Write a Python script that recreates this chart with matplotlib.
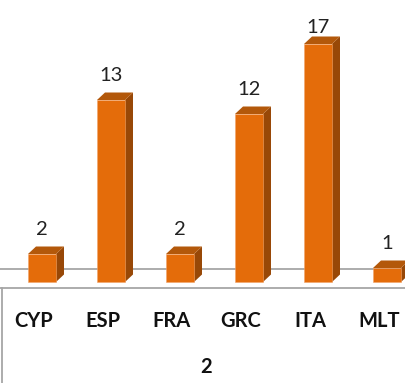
import matplotlib
matplotlib.use("Agg")
import matplotlib.pyplot as plt
from matplotlib.patches import Polygon

plt.rcParams['font.family'] = ['Lato', 'DejaVu Sans']

categories = ["CYP", "ESP", "FRA", "GRC", "ITA", "MLT"]
values = [2, 13, 2, 12, 17, 1]
group_label = "2"

# layout in pixels, turned into data units below
px_per_cat = 69.0
px_per_unit = 14.0
W, H = 405, 383
x0_px = 34.0      # centre of first category
base_px = 282.0   # pixel row of value 0 (front face bottom)

def ux(p):
    return p / px_per_cat

def uy(p):
    return p / px_per_unit

front = "#E46C0A"
side = "#984807"
top = "#B3580A"
grey = "#A6A6A6"

fig = plt.figure(figsize=(W / 100, H / 100), dpi=100)
ax = fig.add_axes([0, 0, 1, 1])
ax.set_xlim(ux(-x0_px), ux(W - x0_px))
ax.set_ylim(uy(base_px - H), uy(base_px))
ax.axis("off")

bar_off = ux(8)
bar_w = ux(28)
dx = ux(8)
dy = uy(7.5)

# back floor line
ax.axhline(uy(13), color=grey, lw=1.3, zorder=1)

xs = list(range(len(categories)))
for i, v in zip(xs, values):
    left = i + bar_off - bar_w / 2
    right = left + bar_w
    ax.bar(i + bar_off, v, width=bar_w, color=front, edgecolor="#F2A46A",
           linewidth=0.4, zorder=3)
    ax.add_patch(Polygon([(right, 0), (right + dx, dy), (right + dx, v + dy), (right, v)],
                         closed=True, facecolor=side, edgecolor="none", zorder=2))
    ax.add_patch(Polygon([(left, v), (right, v), (right + dx, v + dy), (left + dx, v + dy)],
                         closed=True, facecolor=top, edgecolor="none", zorder=2))
    ly = min(v + uy(24.5), uy(base_px - 27.5))
    ax.text(i + bar_off, ly, str(v), ha="center", va="center", fontsize=14.5,
            color="#222222", zorder=4)

# category table under the bars
ax.axhline(uy(-5.5), color=grey, lw=1.3, zorder=1)
ax.plot([ux(2 - x0_px)] * 2, [uy(-5.5), uy(base_px - H)], color=grey, lw=1.3)
for i, c in zip(xs, categories):
    ax.text(i, uy(base_px - 321), c, ha="center", va="center", fontsize=14.5,
            fontweight="bold", color="#111111")
ax.text((len(categories) - 1) / 2, uy(base_px - 367), group_label, ha="center",
        va="center", fontsize=14.5, fontweight="bold", color="#111111")

fig.savefig("out.png", dpi=100)
